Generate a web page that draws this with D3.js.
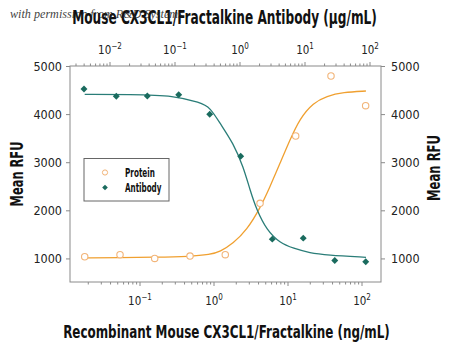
<!DOCTYPE html>
<html><head><meta charset="utf-8">
<script src="https://cdn.jsdelivr.net/npm/d3@7"></script>
<style>
html,body{margin:0;padding:0;background:#fff;}
svg{display:block;}
text{font-family:"Liberation Sans Narrow","DejaVu Sans Condensed","Arial Narrow",sans-serif;}
</style></head>
<body>
<svg id="chart" width="450" height="345"></svg>
<script>
// Data
const proteinConc = [0.0179, 0.0537, 0.158, 0.474, 1.42, 4.19, 12.7, 38.1, 112];   // ng/mL
const proteinRFU  = [1035, 1077, 1000, 1048, 1077, 2146, 3545, 4792, 4175];
const antibodyConc = [0.00398, 0.0125, 0.0375, 0.114, 0.342, 1.025, 3.14, 9.4, 28.7, 86]; // µg/mL
const antibodyRFU  = [4522, 4370, 4376, 4404, 3996, 3123, 1401, 1422, 958, 930];
// fitted curves
const proteinCurveConc = [0.0179, 0.0537, 0.16, 0.474, 0.883, 1.205, 1.82, 2.77, 4.19, 5.71, 7.8, 10.6, 14.5, 22.0, 33.3, 55.8, 113];
const proteinCurveRFU  = [1012, 1019, 1023, 1040, 1081, 1139, 1314, 1590, 2042, 2491, 2977, 3462, 3913, 4237, 4376, 4453, 4480];
const antibodyCurveConc = [0.00408, 0.0203, 0.1, 0.243, 0.345, 0.492, 0.789, 1.125, 1.426, 1.807, 2.576, 4.12, 6.61, 11.94, 21.6, 86.7];
const antibodyCurveRFU  = [4412, 4407, 4387, 4237, 4145, 3809, 3393, 2906, 2422, 2006, 1590, 1320, 1210, 1112, 1071, 1023];
const yTicks = [1000, 2000, 3000, 4000, 5000];
const bottomMajor = [0.1, 1, 10, 100];
const topMajor = [0.01, 0.1, 1, 10, 100];

const orange = "#f0a030", orangeMarker = "#f2b478";
const teal = "#2a7d78", tealMarker = "#1a6b5e";
const axisColor = "#8a8a8a";

const svg = d3.select("#chart");
const L = 70, R = 381, T = 66, B = 282;

const y = d3.scaleLinear().domain([510, 5000]).range([B, T]);
const xB = d3.scaleLog().domain([0.01, 100]).range([66, 362]);
const xT = d3.scaleLog().domain([0.01, 100]).range([110, 370]);

function minorTicks(scale) {
  const out = [];
  for (let e = -4; e <= 3; e++) for (let k = 1; k <= 9; k++) {
    const v = k * Math.pow(10, e);
    const p = scale(v);
    if (p >= L - 0.5 && p <= R + 0.5) out.push(v);
  }
  return out;
}

// frame
svg.append("rect").attr("x", L).attr("y", T).attr("width", R - L).attr("height", B - T)
  .attr("fill", "none").attr("stroke", axisColor).attr("stroke-width", 1);

// bottom ticks
const gB = svg.append("g");
minorTicks(xB).forEach(v => {
  const isMajor = bottomMajor.some(m => Math.abs(m - v) < 1e-9);
  gB.append("line").attr("x1", xB(v)).attr("x2", xB(v)).attr("y1", B).attr("y2", B + (isMajor ? 4 : 2.5))
    .attr("stroke", axisColor);
});
// top ticks
const gT = svg.append("g");
minorTicks(xT).forEach(v => {
  const isMajor = topMajor.some(m => Math.abs(m - v) < 1e-9);
  gT.append("line").attr("x1", xT(v)).attr("x2", xT(v)).attr("y1", T).attr("y2", T - (isMajor ? 4 : 2.5))
    .attr("stroke", axisColor);
});
// y ticks left/right
const yAxisL = d3.axisLeft(y).tickValues(yTicks).tickSize(4).tickFormat(d => d);
const yAxisR = d3.axisRight(y).tickValues(yTicks).tickSize(4).tickFormat(d => d);
const gl = svg.append("g").attr("transform", `translate(${L},0)`).call(yAxisL);
const gr = svg.append("g").attr("transform", `translate(${R},0)`).call(yAxisR);
[gl, gr].forEach(g => {
  g.select(".domain").remove();
  g.selectAll("line").attr("stroke", axisColor);
  g.selectAll("text").attr("fill", "#222").style("font-size", "12.5px").attr("dy", "0.35em");
});
gl.selectAll("text").attr("x", -8);
gr.selectAll("text").attr("x", 10);

function powLabel(g, x, yy, exp) {
  const t = g.append("text").attr("y", yy).attr("fill", "#222").style("font-size", "11.5px");
  t.append("tspan").text("10");
  t.append("tspan").attr("dy", -5).style("font-size", "8px").text(String(exp).replace("-", "\u2212"));
  const w = t.node().getComputedTextLength();
  t.attr("x", x - w / 2);
}
bottomMajor.forEach(v => powLabel(svg, xB(v), 305, Math.round(Math.log10(v))));
topMajor.forEach(v => powLabel(svg, xT(v), 54, Math.round(Math.log10(v))));

// curves
const lineB = d3.line().x(d => xB(d[0])).y(d => y(d[1])).curve(d3.curveBasis);
const lineT = d3.line().x(d => xT(d[0])).y(d => y(d[1])).curve(d3.curveBasis);
svg.append("path").datum(proteinCurveConc.map((c, i) => [c, proteinCurveRFU[i]]))
  .attr("d", lineB).attr("fill", "none").attr("stroke", orange).attr("stroke-width", 1.3);
svg.append("path").datum(antibodyCurveConc.map((c, i) => [c, antibodyCurveRFU[i]]))
  .attr("d", lineT).attr("fill", "none").attr("stroke", teal).attr("stroke-width", 1.3);

// points
svg.append("g").selectAll("circle").data(proteinConc).join("circle")
  .attr("cx", d => xB(d)).attr("cy", (d, i) => y(proteinRFU[i])).attr("r", 3.2)
  .attr("fill", "#fff").attr("stroke", orangeMarker).attr("stroke-width", 1.1);
const diamond = d3.symbol().type(d3.symbolSquare).size(24);
svg.append("g").selectAll("path").data(antibodyConc).join("path")
  .attr("d", diamond)
  .attr("transform", (d, i) => `translate(${xT(d)},${y(antibodyRFU[i])}) rotate(45)`)
  .attr("fill", tealMarker);

// squeeze text horizontally (condensed look) to a target width, keeping height
// anchor: "start" or "middle"; rot: rotation in degrees
function squeezed(parent, txt, cx, cy, size, target, opts = {}) {
  const g = parent.append("g");
  const t = g.append("text").attr("x", 0).attr("y", 0).attr("fill", opts.fill || "#111")
    .style("font-size", size + "px").style("font-weight", opts.weight || "bold")
    .attr("text-anchor", opts.anchor || "middle").text(txt);
  if (opts.family) t.style("font-family", opts.family);
  if (opts.italic) t.style("font-style", "italic");
  if (opts.opacity) t.attr("opacity", opts.opacity);
  const w = t.node().getComputedTextLength();
  const sx = Math.min(1.2, target / w);
  g.attr("transform", `translate(${cx},${cy})` + (opts.rot ? ` rotate(${opts.rot})` : "") + ` scale(${sx.toFixed(4)},1)`);
  return g;
}

// legend
const lg = svg.append("g");
lg.append("rect").attr("x", 84).attr("y", 158.5).attr("width", 85).attr("height", 42.5)
  .attr("fill", "#fff").attr("stroke", "#666").attr("stroke-width", 1);
lg.append("circle").attr("cx", 105).attr("cy", 172.5).attr("r", 2.6)
  .attr("fill", "#fff").attr("stroke", orangeMarker).attr("stroke-width", 1);
lg.append("path").attr("d", d3.symbol().type(d3.symbolSquare).size(16))
  .attr("transform", "translate(105,187.5) rotate(45)").attr("fill", tealMarker);
squeezed(lg, "Protein", 125, 176.5, 12.5, 30, {anchor: "start"});
squeezed(lg, "Antibody", 125, 191.5, 12.5, 36.5, {anchor: "start"});

// titles
squeezed(svg, "Mouse CX3CL1/Fractalkine Antibody (\u00b5g/mL)", 224.5, 24, 19, 305);
squeezed(svg, "Recombinant Mouse CX3CL1/Fractalkine (ng/mL)", 226.5, 338, 18.5, 327);
squeezed(svg, "Mean RFU", 23, 174, 18.5, 65, {rot: -90});
squeezed(svg, "Mean RFU", 440, 168, 18.5, 66, {rot: -90});

// watermark
squeezed(svg, "with permission from R&D Systems", 10, 17.5, 12, 173,
  {anchor: "start", weight: "normal", italic: true, family: "'Liberation Serif','DejaVu Serif',serif", fill: "#222", opacity: 0.85});
</script>
</body></html>
